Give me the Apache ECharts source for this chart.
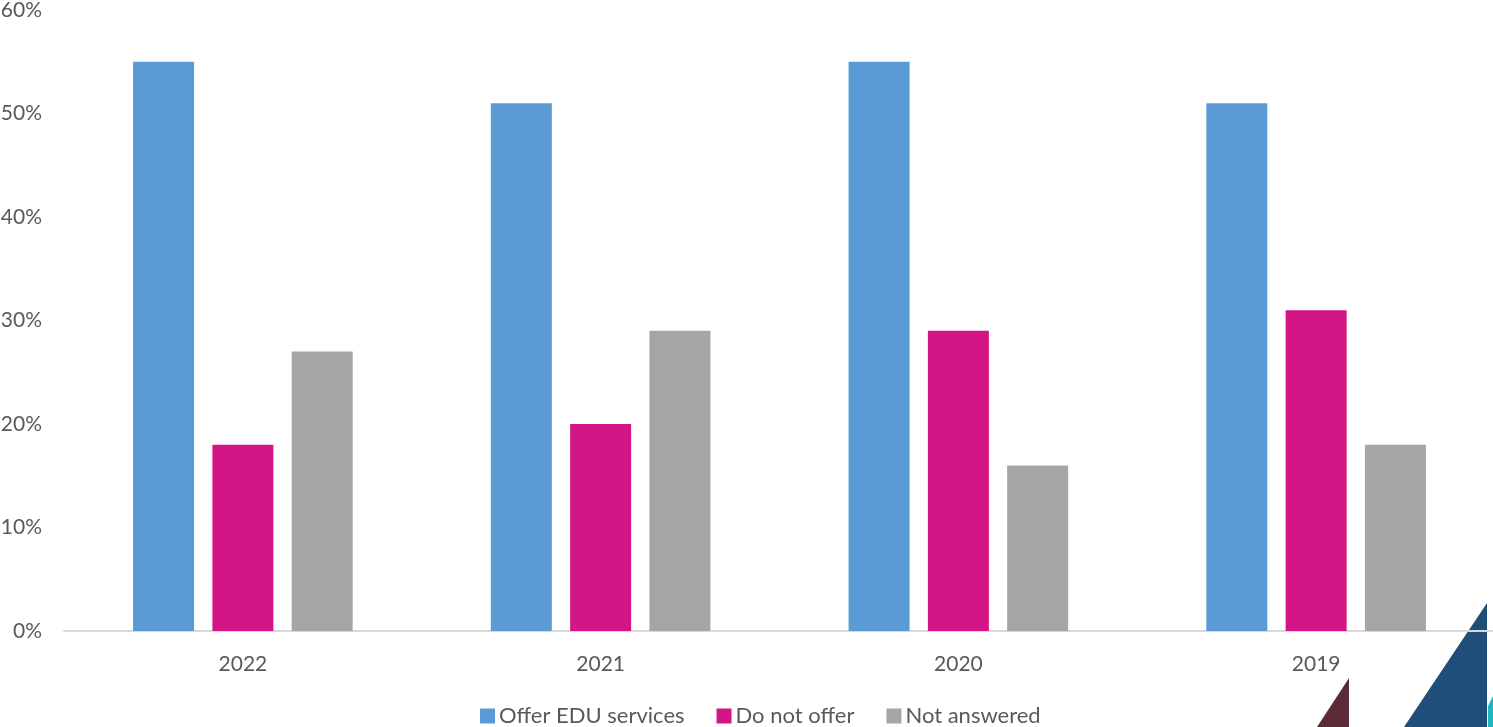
<!DOCTYPE html>
<html>
<head>
<meta charset="utf-8">
<script src="https://cdn.jsdelivr.net/npm/echarts@6/dist/echarts.min.js"></script>
<style>html,body{margin:0;padding:0;background:#fff;}#c{width:1493px;height:727px;}</style>
</head>
<body>
<div id="c"></div>
<script>
const categories = ['2022', '2021', '2020', '2019'];
const offerEdu = [55, 51, 55, 51];
const doNotOffer = [18, 20, 29, 31];
const notAnswered = [27, 29, 16, 18];
const seriesNames = ['Offer EDU services', 'Do not offer', 'Not answered'];

const chart = echarts.init(document.getElementById('c'));
const font = 'Lato, "Open Sans", sans-serif';
const txt = '#595959';
chart.setOption({
  animation: false,
  grid: { left: 64, right: -2, top: 10, bottom: 96, containLabel: false, outerBoundsMode: 'none' },
  legend: {
    data: seriesNames,
    top: 700,
    left: 475,
    icon: 'rect',
    itemWidth: 15,
    itemHeight: 15,
    itemGap: 32,
    textStyle: { color: txt, fontSize: 22, fontFamily: font, padding: [0, 0, 0, -1] }
  },
  xAxis: {
    type: 'category',
    data: categories,
    axisLine: { lineStyle: { color: '#d9d9d9', width: 2 } },
    axisTick: { show: false },
    axisLabel: { color: txt, fontSize: 21, fontFamily: font, margin: 23 }
  },
  yAxis: {
    type: 'value',
    min: 0, max: 60, interval: 10,
    splitLine: { show: false },
    axisLine: { show: false },
    axisTick: { show: false },
    axisLabel: { color: txt, fontSize: 21, fontFamily: font, margin: 22, formatter: '{value}%' }
  },
  graphic: [
    { type: 'polygon', z: -10, shape: { points: [[1487, 603], [1404, 727], [1487, 727]] }, style: { fill: '#1f4e79' } },
    { type: 'polygon', z: -10, shape: { points: [[1349, 678], [1317, 727], [1349, 727]] }, style: { fill: '#5b2c36' } },
    { type: 'polygon', z: -10, shape: { points: [[1493, 696], [1488, 706], [1488, 727], [1493, 727]] }, style: { fill: '#1fb5c0' } }
  ],
  series: [
    { name: seriesNames[0], type: 'bar', data: offerEdu, barWidth: 61, barGap: '30%', itemStyle: { color: '#5b9bd5' } },
    { name: seriesNames[1], type: 'bar', data: doNotOffer, barWidth: 61, barGap: '30%', itemStyle: { color: '#d41585' } },
    { name: seriesNames[2], type: 'bar', data: notAnswered, barWidth: 61, barGap: '30%', itemStyle: { color: '#a5a5a5' } }
  ]
});
</script>
</body>
</html>
